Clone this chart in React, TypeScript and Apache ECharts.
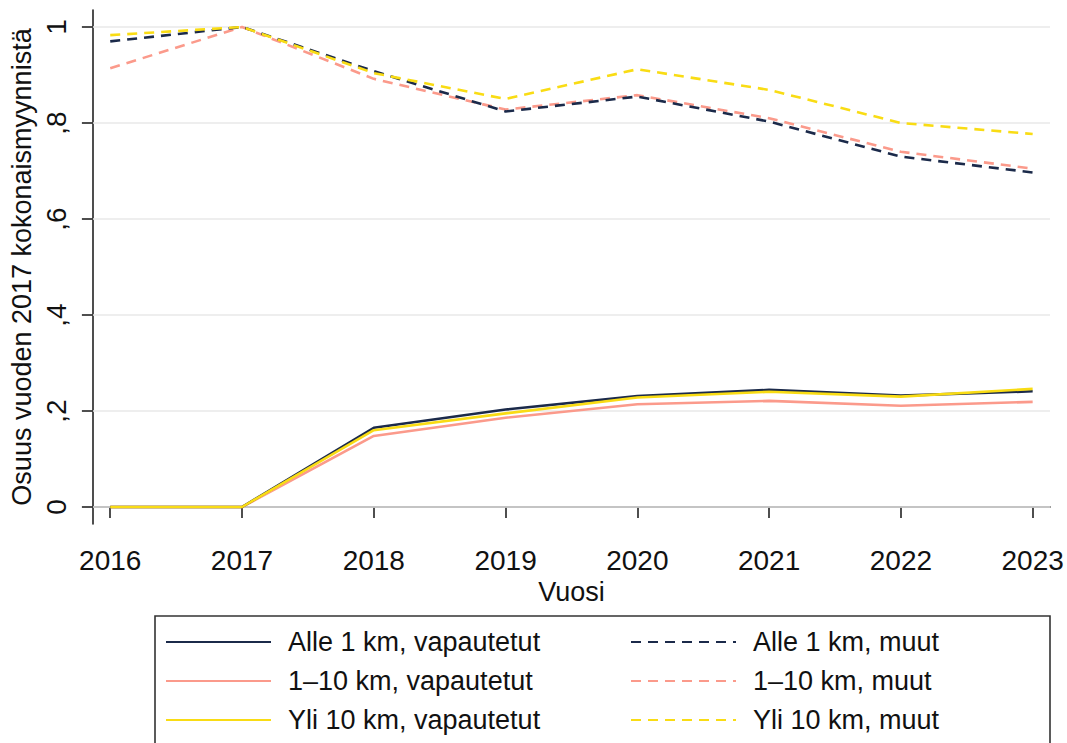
import React, { useEffect, useRef } from "react";
import * as echarts from "echarts";

const years = [2016, 2017, 2018, 2019, 2020, 2021, 2022, 2023];

const alleVap = [0, 0, 0.165, 0.203, 0.231, 0.244, 0.232, 0.241];
const keskiVap = [0, 0, 0.148, 0.186, 0.214, 0.221, 0.211, 0.219];
const yliVap = [0, 0, 0.16, 0.195, 0.228, 0.24, 0.23, 0.246];
const alleMuut = [0.97, 1.0, 0.908, 0.824, 0.855, 0.803, 0.73, 0.697];
const keskiMuut = [0.914, 1.0, 0.892, 0.828, 0.858, 0.81, 0.74, 0.705];
const yliMuut = [0.983, 1.0, 0.904, 0.85, 0.912, 0.869, 0.8, 0.777];

const yTicks = [0, 0.2, 0.4, 0.6, 0.8, 1];

const seriesNames = [
  "Alle 1 km, vapautetut",
  "Alle 1 km, muut",
  "1–10 km, vapautetut",
  "1–10 km, muut",
  "Yli 10 km, vapautetut",
  "Yli 10 km, muut",
];

const NAVY = "#1b2a4a";
const SALMON = "#fb9a8b";
const YELLOW = "#f9dc14";
const FONT = "Liberation Sans";

export default function App() {
  const ref = useRef<HTMLDivElement>(null);
  useEffect(() => {
    if (!ref.current) return;
    const chart = echarts.init(ref.current, null, { renderer: "svg" });
    const pts = (arr: number[]) => years.map((y, i) => [y, arr[i]]);
    const mk = (name: string, data: number[], color: string, dashed: boolean, z: number) => ({
      name,
      type: "line",
      data: pts(data),
      symbol: "none",
      z,
      lineStyle: { color, width: 2.6, type: dashed ? [10, 7] : "solid" },
      itemStyle: { color },
    });
    const seriesList: any[] = [
      mk(seriesNames[0], alleVap, NAVY, false, 4),
      mk(seriesNames[1], alleMuut, NAVY, true, 4),
      mk(seriesNames[2], keskiVap, SALMON, false, 3),
      mk(seriesNames[3], keskiMuut, SALMON, true, 3),
      mk(seriesNames[4], yliVap, YELLOW, false, 5),
      mk(seriesNames[5], yliMuut, YELLOW, true, 5),
    ];
    seriesList.push({
      name: "grid",
      type: "line",
      data: [],
      silent: true,
      z: 1,
      markLine: {
        silent: true,
        symbol: "none",
        z: 1,
        label: { show: false },
        lineStyle: { color: "#e8e8e8", width: 1.5, type: "solid" },
        data: yTicks.map((v) => ({ yAxis: v })),
      },
    });
    const legendCommon = {
      orient: "vertical",
      itemWidth: 105,
      itemHeight: 14,
      itemGap: 9,
      padding: 0,
      selectedMode: false,
      itemStyle: { opacity: 0, borderWidth: 0 },
      lineStyle: { opacity: 1 },
      textStyle: {
        fontFamily: FONT,
        fontSize: 27,
        color: "#111",
        lineHeight: 30,
        padding: [0, 0, 0, 12],
      },
    };
    chart.setOption({
      animation: false,
      backgroundColor: "#fff",
      grid: { left: 84, right: 17, top: 10, bottom: 219, containLabel: false },
      xAxis: {
        type: "value",
        min: 2016 - 17.5 / 133,
        max: 2023 + 17.5 / 133,
        name: "Vuosi",
        nameLocation: "middle",
        nameGap: 45,
        nameTextStyle: { fontFamily: FONT, fontSize: 27, color: "#111" },
        axisLine: { show: true, lineStyle: { color: "#222", width: 1.6 } },
        axisTick: {
          show: true,
          length: 11,
          lineStyle: { color: "#222", width: 1.6 },
          customValues: years,
        },
        axisLabel: {
          customValues: years,
          margin: 22,
          fontFamily: FONT,
          fontSize: 28,
          color: "#111",
          formatter: (v: number) => String(Math.round(v)),
        },
        splitLine: { show: false },
      },
      yAxis: {
        type: "value",
        min: -17 / 480,
        max: 1 + 17 / 480,
        name: "Osuus vuoden 2017 kokonaismyynnistä",
        nameLocation: "middle",
        nameRotate: 90,
        nameGap: 56,
        nameTextStyle: { fontFamily: FONT, fontSize: 27, color: "#111" },
        axisLine: { show: true, lineStyle: { color: "#222", width: 1.6 } },
        axisTick: {
          show: true,
          length: 11,
          lineStyle: { color: "#222", width: 1.6 },
          customValues: yTicks,
        },
        axisLabel: {
          customValues: yTicks,
          rotate: 90,
          margin: 22,
          fontFamily: FONT,
          fontSize: 28,
          color: "#111",
          formatter: (v: number) => {
            const r = Math.round(v * 10);
            if (r === 0) return "0";
            if (r === 10) return "1";
            return "," + r;
          },
        },
        splitLine: { show: false },
      },
      legend: [
        {
          ...legendCommon,
          left: 165,
          top: 627,
          data: [seriesNames[0], seriesNames[2], seriesNames[4]],
        },
        {
          ...legendCommon,
          left: 630,
          top: 627,
          data: [seriesNames[1], seriesNames[3], seriesNames[5]],
        },
      ],
      graphic: [
        {
          type: "rect",
          shape: { x: 155, y: 616, width: 895, height: 160 },
          style: { fill: "none", stroke: "#333", lineWidth: 1.6 },
          silent: true,
        },
      ],
      series: seriesList,
    });
    return () => chart.dispose();
  }, []);
  return (
    <div
      ref={ref}
      style={{ position: "fixed", left: 0, top: 0, width: 1067, height: 743, background: "#fff" }}
    />
  );
}
